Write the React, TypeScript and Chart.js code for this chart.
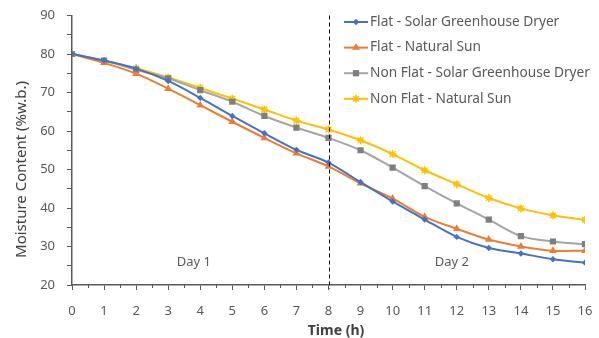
import React, { useEffect, useRef } from 'react';
import { Chart, registerables } from 'chart.js';
Chart.register(...registerables);

const hours = [0, 1, 2, 3, 4, 5, 6, 7, 8, 9, 10, 11, 12, 13, 14, 15, 16];
const flatSolar = [80.0, 78.3, 76.2, 73.0, 68.6, 63.9, 59.4, 55.1, 51.8, 46.7, 41.7, 37.0, 32.5, 29.6, 28.2, 26.7, 25.8];
const flatSun = [80.0, 77.7, 74.9, 71.0, 66.7, 62.4, 58.2, 54.2, 50.8, 46.4, 42.5, 37.7, 34.6, 31.8, 30.0, 28.9, 28.9];
const nonFlatSolar = [80.0, 78.3, 75.9, 73.7, 70.6, 67.6, 63.9, 60.9, 58.2, 55.0, 50.5, 45.7, 41.2, 37.0, 32.7, 31.3, 30.6];
const nonFlatSun = [80.0, 78.2, 76.3, 73.9, 71.2, 68.4, 65.6, 62.7, 60.4, 57.6, 54.0, 49.8, 46.2, 42.6, 39.9, 38.1, 36.9];
const seriesNames = [
  'Flat - Solar Greenhouse Dryer',
  'Flat - Natural Sun',
  'Non Flat - Solar Greenhouse Dryer',
  'Non Flat - Natural Sun',
];
const xTitle = 'Time (h)';
const yTitle = 'Moisture Content (%w.b.)';
const dayLabels = ['Day 1', 'Day 2'];
const dayLabelHours = [3.8, 11.85];
const dayLabelValue = 26;
const dividerHour = 8;

const FONT = "'Noto Sans', sans-serif";
const TEXT = '#595959';
const TITLE = '#404040';
const AXIS = '#595959';

const styles = [
  { line: '#4472C4', point: '#4472C4', shape: 'rectRot', r: 3.2 },
  { line: '#ED7D31', point: '#ED7D31', shape: 'triangle', r: 4.5 },
  { line: '#A5A5A5', point: '#7F7F7F', shape: 'rect', r: 4.4 },
  { line: '#FFC000', point: '#FFC000', shape: 'star', r: 4 },
];

function drawMarker(ctx: CanvasRenderingContext2D, shape: string, x: number, y: number, r: number, color: string) {
  ctx.save();
  ctx.fillStyle = color;
  ctx.strokeStyle = color;
  ctx.lineWidth = 1.5;
  ctx.beginPath();
  if (shape === 'rectRot') {
    ctx.moveTo(x, y - r); ctx.lineTo(x + r, y); ctx.lineTo(x, y + r); ctx.lineTo(x - r, y); ctx.closePath(); ctx.fill();
  } else if (shape === 'triangle') {
    ctx.moveTo(x, y - r); ctx.lineTo(x + r * 0.87, y + r * 0.5); ctx.lineTo(x - r * 0.87, y + r * 0.5); ctx.closePath(); ctx.fill();
  } else if (shape === 'rect') {
    const s = r * Math.SQRT2;
    ctx.fillRect(x - s / 2, y - s / 2, s, s);
  } else {
    const d = r * Math.SQRT1_2;
    ctx.moveTo(x - d, y - d); ctx.lineTo(x + d, y + d);
    ctx.moveTo(x + d, y - d); ctx.lineTo(x - d, y + d);
    ctx.moveTo(x, y - r); ctx.lineTo(x, y + r);
    ctx.moveTo(x - r, y); ctx.lineTo(x + r, y);
    ctx.stroke();
  }
  ctx.restore();
}

const overlayPlugin = {
  id: 'overlay',
  afterDatasetsDraw(chart: any) {
    const { ctx, chartArea, scales } = chart;
    const xs = scales.x;
    const ys = scales.y;
    ctx.save();
    // minor x ticks
    ctx.strokeStyle = AXIS;
    ctx.lineWidth = 1;
    for (let i = 0; i < hours.length - 1; i++) {
      const mx = Math.round(xs.getPixelForValue((hours[i] + hours[i + 1]) / 2)) + 0.5;
      ctx.beginPath();
      ctx.moveTo(mx, chartArea.bottom);
      ctx.lineTo(mx, chartArea.bottom + 3);
      ctx.stroke();
    }
    // divider
    const px = xs.getPixelForValue(dividerHour);
    ctx.strokeStyle = '#000000';
    ctx.setLineDash([4, 3]);
    ctx.beginPath();
    ctx.moveTo(Math.round(px) + 0.5, chartArea.top);
    ctx.lineTo(Math.round(px) + 0.5, chartArea.bottom + 4);
    ctx.stroke();
    ctx.setLineDash([]);
    // day labels
    ctx.fillStyle = TEXT;
    ctx.font = `13px ${FONT}`;
    ctx.textAlign = 'center';
    ctx.textBaseline = 'middle';
    dayLabels.forEach((t, i) => {
      ctx.fillText(t, xs.getPixelForValue(dayLabelHours[i]), ys.getPixelForValue(dayLabelValue));
    });
    // axis titles
    ctx.fillStyle = TITLE;
    ctx.font = `bold 14px ${FONT}`;
    ctx.fillText(xTitle, chartArea.left + 264, chartArea.bottom + 46);
    ctx.save();
    ctx.translate(21.5, chartArea.top + 154);
    ctx.rotate(-Math.PI / 2);
    ctx.font = `15px ${FONT}`;
    ctx.fillText(yTitle, 0, 0);
    ctx.restore();
    // legend
    const lx = chartArea.left + 272;
    const ly = chartArea.top + 6.5;
    ctx.textAlign = 'left';
    ctx.font = `13.7px ${FONT}`;
    seriesNames.forEach((name, i) => {
      const y = ly + i * 25.6;
      const st = styles[i];
      ctx.strokeStyle = st.line;
      ctx.lineWidth = 2;
      ctx.beginPath();
      ctx.moveTo(lx, y);
      ctx.lineTo(lx + 24, y);
      ctx.stroke();
      drawMarker(ctx, st.shape, lx + 12, y, st.r, st.point);
      ctx.fillStyle = TEXT;
      ctx.fillText(name, lx + 26, y);
    });
    ctx.restore();
  },
};

export default function App() {
  const ref = useRef<HTMLCanvasElement>(null);
  useEffect(() => {
    if (!ref.current) return;
    const seriesData = [flatSolar, flatSun, nonFlatSolar, nonFlatSun];
    const chart = new Chart(ref.current, {
      type: 'line',
      data: {
        datasets: seriesData.map((vals, i) => ({
          label: seriesNames[i],
          data: hours.map((h, j) => ({ x: h, y: vals[j] })),
          borderColor: styles[i].line,
          backgroundColor: styles[i].point,
          pointBackgroundColor: styles[i].point,
          pointBorderColor: styles[i].point,
          pointBorderWidth: styles[i].shape === 'star' ? 1.5 : 0,
          pointStyle: styles[i].shape as any,
          pointRadius: styles[i].r,
          borderWidth: 2,
          tension: 0.3,
          fill: false,
        })),
      },
      options: {
        responsive: false,
        animation: false,
        layout: { padding: { top: 15.5, right: 14, left: 0, bottom: 0 } },
        plugins: { legend: { display: false }, tooltip: { enabled: false } },
        scales: {
          x: {
            type: 'linear',
            min: 0,
            max: 16,
            afterFit: (s: any) => { s.height = 53; s.paddingRight = 0; s.paddingLeft = 0; },
            ticks: {
              stepSize: 1,
              autoSkip: false,
              maxRotation: 0,
              color: TEXT,
              font: { family: FONT, size: 13 },
              padding: 13,
            },
            grid: { drawOnChartArea: false, drawTicks: true, tickLength: 5, color: AXIS },
            border: { color: AXIS, width: 1.5 },
            title: { display: false },
          },
          y: {
            min: 20,
            max: 90,
            afterFit: (s: any) => { s.width = 72; s.paddingTop = 0; s.paddingBottom = 0; },
            ticks: {
              stepSize: 5,
              autoSkip: false,
              color: TEXT,
              font: { family: FONT, size: 13 },
              padding: 12,
              callback: (v: any) => (v % 10 === 0 ? String(v) : ''),
            },
            grid: { drawOnChartArea: false, drawTicks: true, tickLength: 5, color: AXIS },
            border: { color: AXIS, width: 1.5 },
            title: { display: false },
          },
        },
      },
      plugins: [overlayPlugin],
    });
    return () => chart.destroy();
  }, []);
  return (
    <div style={{ position: 'absolute', left: 0, top: 0, width: 599, height: 338 }}>
      <canvas ref={ref} width={599} height={338} />
    </div>
  );
}
